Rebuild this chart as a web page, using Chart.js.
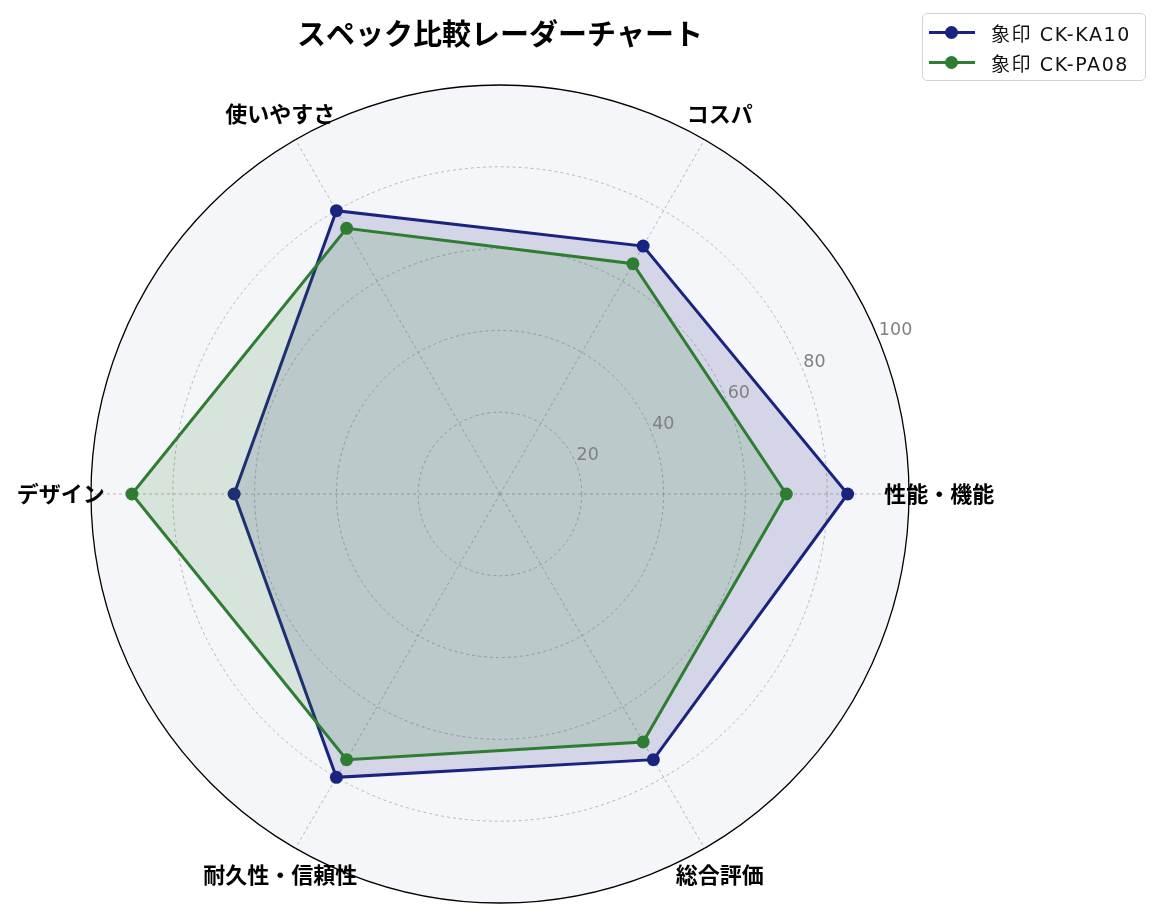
<!DOCTYPE html>
<html lang="ja">
<head>
<meta charset="utf-8">
<title>スペック比較レーダーチャート</title>
<script src="https://cdn.jsdelivr.net/npm/chart.js@4.4.1/dist/chart.umd.min.js"></script>
<style>
    body { margin: 0; background: #fff; }
    #wrap { position: relative; width: 1159px; height: 920px; }
    #legend {
        position: absolute; left: 922px; top: 13px; width: 224px; height: 68px;
        border: 1px solid #d4d4d4; border-radius: 5px; background: rgba(255,255,255,.85);
        font-family: 'DejaVu Sans', 'Noto Sans CJK JP', sans-serif; font-size: 19px; color: #111;
        letter-spacing: 1.6px; box-sizing: border-box; padding-top: 3px; white-space: nowrap;
    }
    .item { display: flex; align-items: center; height: 30px; }
    .swatch { position: relative; width: 46px; height: 3px; margin: 0 16px 0 6px; flex: none; }
    .swatch span { position: absolute; left: 16px; top: -5px; width: 13px; height: 13px; border-radius: 50%; }
</style>
</head>
<body>
<div id="wrap">
    <canvas id="radar-chart" width="1159" height="920"></canvas>
    <div id="legend"></div>
</div>
<script>
// Categories, clockwise from the right-hand axis
const categories = ['性能・機能', '総合評価', '耐久性・信頼性', 'デザイン', '使いやすさ', 'コスパ'];
const seriesNames = ['象印 CK-KA10', '象印 CK-PA08'];
const ka10Values = [85, 75, 80, 65, 80, 70];
const pa08Values = [70, 70, 75, 90, 75, 65];
const tickValues = [20, 40, 60, 80, 100];

const radarCanvas = document.querySelector('#radar-chart');
const legendBox = document.querySelector('#legend');

const colors = ['#1a237e', '#2e7d32'];
const fills = ['rgba(26, 35, 126, .15)', 'rgba(46, 125, 50, .15)'];

Chart.defaults.font.family = "'Noto Sans CJK JP', sans-serif";

const radarData = {
    labels: categories,
    datasets: [ka10Values, pa08Values].map((vals, i) => ({
        label: seriesNames[i],
        data: vals,
        borderColor: colors[i],
        backgroundColor: fills[i],
        borderWidth: 3,
        fill: true,
        tension: 0,
        pointRadius: 6.5,
        pointBorderWidth: 0,
        pointBackgroundColor: colors[i],
        order: 1 - i
    }))
};

// light backdrop of the polar area
const polarBackground = {
    id: 'polarBackground',
    beforeDraw(chart) {
        const s = chart.scales.r;
        const ctx = chart.ctx;
        ctx.save();
        ctx.beginPath();
        ctx.arc(s.xCenter, s.yCenter, s.drawingArea, 0, Math.PI * 2);
        ctx.fillStyle = '#f5f6fa';
        ctx.fill();
        ctx.restore();
    }
};

// radial tick labels at 22.5deg and centred category labels
const polarLabels = {
    id: 'polarLabels',
    afterDraw(chart) {
        const s = chart.scales.r;
        const ctx = chart.ctx;
        ctx.save();
        const a = s.getIndexAngle(0) - Math.PI / 2 - Math.PI / 8;
        ctx.font = "17.5px 'DejaVu Sans', sans-serif";
        ctx.fillStyle = '#808080';
        ctx.textAlign = 'left';
        ctx.textBaseline = 'bottom';
        tickValues.forEach(v => {
            const d = s.getDistanceFromCenterForValue(v);
            ctx.fillText(String(v), s.xCenter + Math.cos(a) * d + 1, s.yCenter + Math.sin(a) * d + 2);
        });
        ctx.font = "bold 22px 'Noto Sans CJK JP', sans-serif";
        ctx.fillStyle = '#000';
        ctx.textAlign = 'center';
        ctx.textBaseline = 'middle';
        const labelDist = s.getDistanceFromCenterForValue(107.4);
        chart.data.labels.forEach((lbl, i) => {
            const p = s.getPointPosition(i, labelDist);
            ctx.fillText(lbl, p.x, p.y);
        });
        ctx.restore();
    }
};

const radarOptions = {
    responsive: false,
    animation: false,
    layout: {
        padding: { left: 91, right: 250, top: 0, bottom: 17 }
    },
    scales: {
        r: {
            min: 0,
            max: 100,
            startAngle: 90,
            ticks: { stepSize: 20, display: false },
            pointLabels: { display: false },
            grid: {
                circular: true,
                color: ctx => ctx.tick && ctx.tick.value === 100 ? '#000' : '#a8a8a8',
                lineWidth: ctx => ctx.tick && ctx.tick.value === 100 ? 1.3 : 0.8
            },
            border: {
                dash: ctx => ctx.tick && ctx.tick.value === 100 ? [] : [3, 3]
            },
            angleLines: {
                color: '#a8a8a8',
                lineWidth: 0.8,
                borderDash: [3, 3]
            }
        }
    },
    plugins: {
        legend: { display: false },
        tooltip: { enabled: false },
        title: {
            display: true,
            text: 'スペック比較レーダーチャート',
            color: '#000',
            font: { size: 29, weight: 'bold' },
            padding: { top: 17, bottom: 33.2 }
        }
    }
};

new Chart(radarCanvas, {
    type: 'radar',
    data: radarData,
    options: radarOptions,
    plugins: [polarBackground, polarLabels]
});

legendBox.innerHTML = radarData.datasets.map(ds => `
    <div class="item">
        <div class="swatch" style="background:${ds.borderColor}"><span style="background:${ds.borderColor}"></span></div>
        <div>${ds.label}</div>
    </div>`).join('');
</script>
</body>
</html>
